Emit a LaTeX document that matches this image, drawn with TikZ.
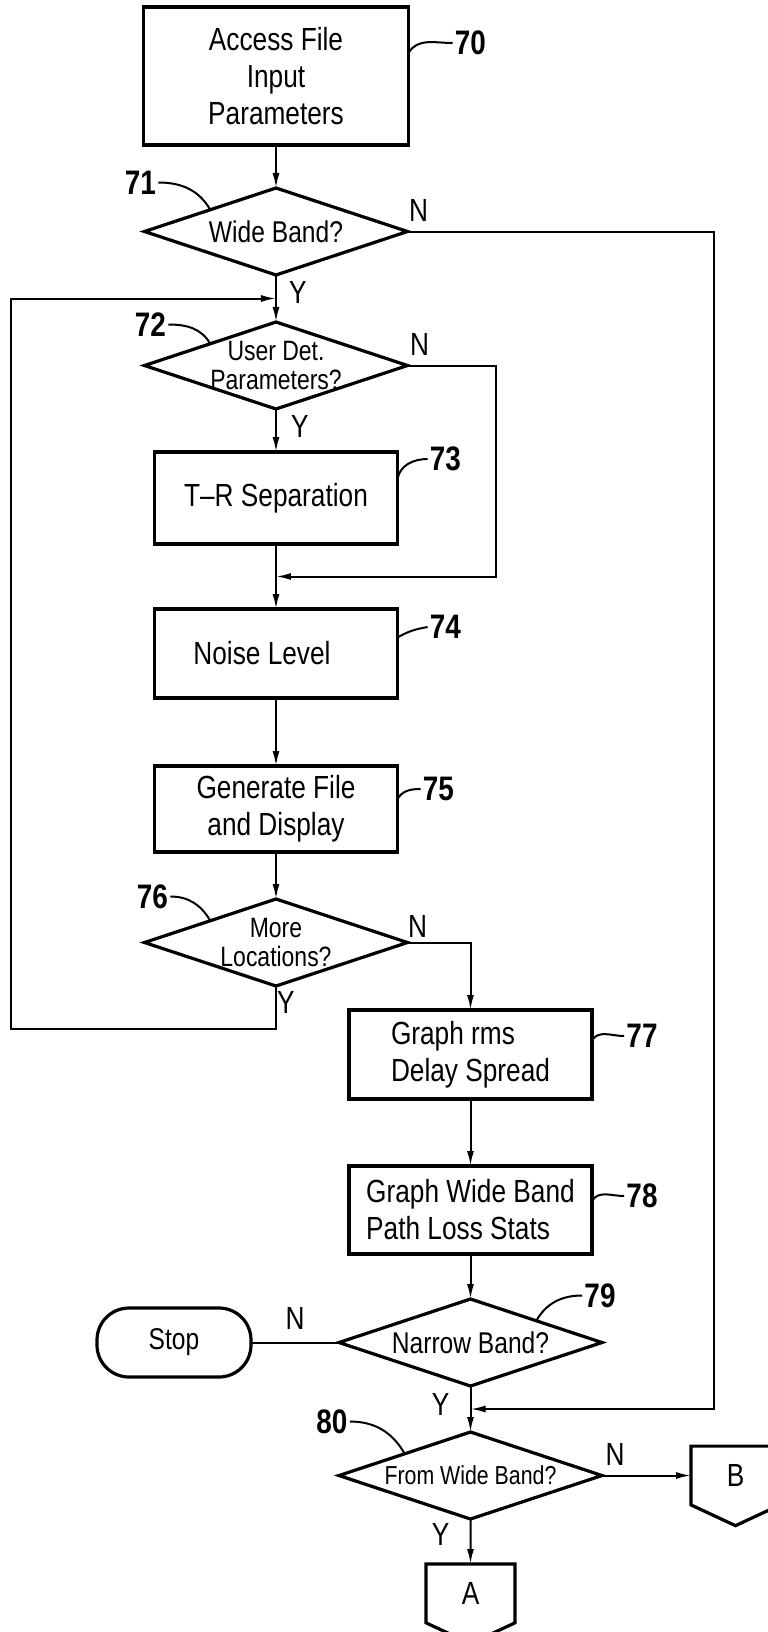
\documentclass[tikz,border=0pt]{standalone}
\usepackage{fontspec}
\setmainfont{Liberation Sans}[FakeStretch=0.82]
\usepackage{tikz}
\usetikzlibrary{shapes.geometric, shapes.symbols, arrows.meta, positioning, calc}
\tikzstyle{startstop} = [rectangle, rounded corners=16pt, minimum width=77pt, minimum height=34.5pt, text centered, draw=black, line width=1.6pt, outer sep=0pt, font=\fontsize{15}{16}\selectfont]
\tikzstyle{process} = [rectangle, minimum width=121.5pt, minimum height=44pt, align=center, draw=black, line width=1.6pt, outer sep=0pt, font=\fontsize{16}{18.5}\selectfont]
\tikzstyle{decision} = [diamond, aspect=3, inner sep=-6pt, minimum width=131.5pt, minimum height=43.5pt, align=center, draw=black, line width=1.6pt, outer sep=0pt, font=\fontsize{15}{14.5}\selectfont]
\tikzstyle{offpage} = [signal, signal to=south, signal pointer angle=130, minimum width=44.5pt, minimum height=33pt, draw=black, line width=1.6pt, outer sep=0pt, font=\fontsize{16}{16}\selectfont]
\tikzstyle{num} = [inner sep=1pt, font=\fontsize{17}{17}\selectfont\bfseries]
\tikzstyle{yn} = [inner sep=0pt, font=\fontsize{16}{16}\selectfont]
\tikzstyle{arrow} = [line width=1pt,->,>={Latex[length=7.5pt,width=3.5pt]}]
\tikzstyle{link} = [line width=1pt]
\tikzstyle{lead} = [line width=1pt]

\begin{document}
\begin{tikzpicture}[node distance=20pt]
    \useasboundingbox (-138pt,38pt) rectangle (245.5pt,-778pt);
    % Define blocks
    \node (access) [process, minimum width=132.5pt, minimum height=69pt] {Access File\\Input\\Parameters};
    \node (wide) [decision, below=21.5pt of access] {Wide Band?};
    \node (userdet) [decision, below=23.5pt of wide, font=\fontsize{14}{14.5}\selectfont] {User Det.\\Parameters?};
    \node (trsep) [process, below=21.5pt of userdet, minimum height=46pt] {T--R Separation};
    \node (noise) [process, below=32.5pt of trsep, minimum height=44.5pt] {Noise Level\hspace*{14pt}};
    \node (genfile) [process, below=34pt of noise, minimum height=43pt] {Generate File\\and Display};
    \node (moreloc) [decision, below=23.5pt of genfile, font=\fontsize{14}{14.5}\selectfont] {More\\Locations?};
    \node (rms) [process, below=12pt of moreloc, xshift=97.25pt, minimum height=44.5pt, align=left] {Graph rms\\Delay Spread};
    \node (pathloss) [process, below=33.5pt of rms, align=left] {Graph Wide Band\\Path Loss Stats};
    \node (narrow) [decision, below=22.5pt of pathloss] {Narrow Band?};
    \node (stop) [startstop, left=44pt of narrow] {Stop};
    \node (fromwide) [decision, below=23pt of narrow, font=\fontsize{13}{13}\selectfont] {From Wide Band?};
    \node (conA) [offpage, below=22.5pt of fromwide] {A};
    \node (conB) [offpage, right=44.5pt of fromwide] {B};

    % Reference numbers
    \node (ref70) [num] at ([shift={(31pt,-18pt)}]access.north east) {70};
    \node (ref71) [num] at ([shift={(-2pt,24.5pt)}]wide.west) {71};
    \node (ref72) [num] at ([shift={(3pt,20.5pt)}]userdet.west) {72};
    \node (ref73) [num] at ([shift={(24pt,-3.5pt)}]trsep.north east) {73};
    \node (ref74) [num] at ([shift={(24pt,-9pt)}]noise.north east) {74};
    \node (ref75) [num] at ([shift={(20.5pt,-11.5pt)}]genfile.north east) {75};
    \node (ref76) [num] at ([shift={(4pt,23pt)}]moreloc.west) {76};
    \node (ref77) [num] at ([shift={(25pt,-13pt)}]rms.north east) {77};
    \node (ref78) [num] at ([shift={(25pt,-15pt)}]pathloss.north east) {78};
    \node (ref79) [num] at ([shift={(-1pt,23.5pt)}]narrow.east) {79};
    \node (ref80) [num] at ([shift={(-3.5pt,27pt)}]fromwide.west) {80};

    % Y / N
    \node (wideN) [yn] at ([shift={(5.5pt,10.5pt)}]wide.east) {N};
    \node (wideY) [yn] at ([shift={(11pt,-8.5pt)}]wide.south) {Y};
    \node (userdetN) [yn] at ([shift={(6pt,10.5pt)}]userdet.east) {N};
    \node (userdetY) [yn] at ([shift={(12pt,-8.5pt)}]userdet.south) {Y};
    \node (morelocN) [yn] at ([shift={(5pt,8pt)}]moreloc.east) {N};
    \node (morelocY) [yn] at ([shift={(5pt,-8pt)}]moreloc.south) {Y};
    \node (narrowN) [yn] at ([shift={(-22pt,12pt)}]narrow.west) {N};
    \node (narrowY) [yn] at ([shift={(-15pt,-9pt)}]narrow.south) {Y};
    \node (fromwideN) [yn] at ([shift={(6.5pt,10.5pt)}]fromwide.east) {N};
    \node (fromwideY) [yn] at ([shift={(-15pt,-7.5pt)}]fromwide.south) {Y};

    % Draw arrows
    \coordinate (loopin) at ($(wide.south)!0.5!(userdet.north)$);
    \coordinate (skipin) at ($(trsep.south)!0.5!(noise.north)$);
    \coordinate (wbin) at ($(narrow.south)!0.5!(fromwide.north)$);
    \draw [arrow] (access) -- (wide);
    \draw [arrow] (wide) -- (userdet);
    \draw [arrow] (userdet) -- (trsep);
    \draw [arrow] (trsep) -- (noise);
    \draw [arrow] (noise) -- (genfile);
    \draw [arrow] (genfile) -- (moreloc);
    \draw [arrow] (rms) -- (pathloss);
    \draw [arrow] (pathloss) -- (narrow);
    \draw [arrow] (narrow) -- (fromwide);
    \draw [arrow] (fromwide) -- (conA);
    \draw [arrow] (fromwide.east) -- (fromwide.east -| conB.west);
    \draw [link] (narrow) -- (stop);
    \draw [arrow] (wide.east) -- ++(153pt,0) |- (wbin);
    \draw [arrow] (userdet.east) -- ++(44pt,0) |- (skipin);
    \draw [arrow] (moreloc.east) -| (rms.north);
    \draw [arrow] (moreloc.south) -- ++(0,-21.5pt) -- ++(-132.5pt,0) |- (loopin);

    % Leaders
    \draw [lead] ([yshift=11.5pt]access.east) to[out=60,in=180] (ref70.west);
    \draw [lead] (ref71.east) to[out=0,in=120] (wide.north west);
    \draw [lead] (ref72.east) to[out=0,in=120] (userdet.north west);
    \draw [lead] ([yshift=9.5pt]trsep.east) to[out=80,in=180] (ref73.west);
    \draw [lead] ([yshift=8pt]noise.east) to[out=30,in=190] (ref74.west);
    \draw [lead] ([yshift=5pt]genfile.east) to[out=60,in=180] (ref75.west);
    \draw [lead] (ref76.east) to[out=0,in=120] (moreloc.north west);
    \draw [lead] ([yshift=7pt]rms.east) to[out=60,in=180] (ref77.west);
    \draw [lead] ([yshift=4.5pt]pathloss.east) to[out=60,in=180] (ref78.west);
    \draw [lead] (ref79.west) to[out=180,in=60] (narrow.north east);
    \draw [lead] (ref80.east) to[out=0,in=120] (fromwide.north west);
\end{tikzpicture}
\end{document}
